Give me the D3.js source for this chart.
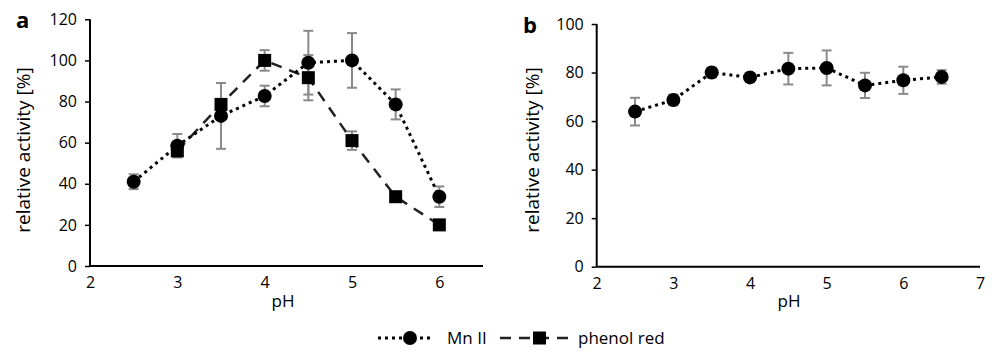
<!DOCTYPE html>
<html><head><meta charset="utf-8">
<script src="https://cdn.jsdelivr.net/npm/d3@7"></script>
<style>body{margin:0;background:#fff}svg{display:block}text{font-family:"Open Sans",sans-serif}</style>
</head><body><svg id="c" width="994" height="355"></svg>
<script>
// Panel a
const phA = [2.5, 3, 3.5, 4, 4.5, 5, 5.5, 6];
const mnA = [41, 58.5, 73, 82.7, 98.9, 100, 78.6, 33.7];
const mnAerr = [3.6, 5.7, 16, 5, 15.5, 13.3, 7.3, 5];
const phRedX = [3, 3.5, 4, 4.5, 5, 5.5, 6];
const phRed = [56, 78.6, 100, 91.6, 61, 33.7, 20];
const phRedErr = [1.5, 1.5, 5, 11, 4.5, 1, 1];
// Panel b
const phB = [2.5, 3, 3.5, 4, 4.5, 5, 5.5, 6, 6.5];
const mnB = [63.9, 68.7, 80, 78, 81.6, 81.9, 74.7, 76.8, 78.2];
const mnBerr = [5.7, 2.2, 2, 1.5, 6.5, 7.2, 5.2, 5.6, 2.8];
const ticksXA = [2, 3, 4, 5, 6];
const ticksYA = [0, 20, 40, 60, 80, 100, 120];
const ticksXB = [2, 3, 4, 5, 6, 7];
const ticksYB = [0, 20, 40, 60, 80, 100];
const legendLabels = ["Mn II", "phenol red"];

const svg = d3.select("#c");
const FS = 16;

function panel(opts) {
  const g = svg.append("g");
  const x = d3.scaleLinear().domain(opts.xd).range(opts.xr);
  const y = d3.scaleLinear().domain(opts.yd).range(opts.yr);
  const ya = g.append("g").attr("transform", `translate(${opts.xr[0]},0)`)
    .call(d3.axisLeft(y).tickValues(opts.yt).tickSize(5).tickPadding(8).tickFormat(d3.format("d")));
  ya.select(".domain").attr("stroke", "#000").attr("stroke-width", 2).attr("d", `M0,${opts.yr[0]}V${opts.yr[1]}`);
  ya.selectAll(".tick line").attr("stroke", "#000").attr("stroke-width", 1.5);
  ya.selectAll("text").attr("font-size", FS).attr("fill", "#000").attr("font-family", "Open Sans");
  const xa = g.append("g").attr("transform", `translate(0,${opts.yr[0]})`)
    .call(d3.axisBottom(x).tickValues(opts.xt).tickSize(0).tickPadding(11).tickFormat(d3.format("d")));
  xa.select(".domain").attr("stroke", "#000").attr("stroke-width", 2).attr("d", `M${opts.xr[0]},0H${opts.xr[1]}`);
  xa.selectAll("text").attr("font-size", FS).attr("fill", "#000").attr("font-family", "Open Sans");
  g.append("text").attr("transform", `translate(${opts.ylx},${opts.yly}) rotate(-90)`)
    .attr("text-anchor", "middle").attr("font-size", 19).text("relative activity [%]");
  g.append("text").attr("x", opts.phx).attr("y", 307).attr("text-anchor", "middle").attr("font-size", 17).text("pH");
  g.append("text").attr("x", opts.lx).attr("y", opts.ly).attr("font-family", "Liberation Sans, Arial")
    .attr("font-weight", "bold").attr("font-size", 22).text(opts.letter);
  return {g, x, y};
}

function errBars(p, xs, ys, es) {
  const eg = p.g.append("g").attr("stroke", "#8a8a8a").attr("stroke-width", 2);
  xs.forEach((xv, i) => {
    const cx = p.x(xv), t = p.y(ys[i] + es[i]), b = p.y(ys[i] - es[i]);
    eg.append("line").attr("x1", cx).attr("x2", cx).attr("y1", t).attr("y2", b);
    eg.append("line").attr("x1", cx - 5).attr("x2", cx + 5).attr("y1", t).attr("y2", t);
    eg.append("line").attr("x1", cx - 5).attr("x2", cx + 5).attr("y1", b).attr("y2", b);
  });
}
function series(p, xs, ys, kind) {
  const line = d3.line().x((d, i) => p.x(xs[i])).y(d => p.y(d));
  const path = p.g.append("path").attr("d", line(ys)).attr("fill", "none");
  if (kind === "circle") path.attr("stroke", "#000").attr("stroke-width", 3).attr("stroke-dasharray", "3,4");
  else path.attr("stroke", "#222").attr("stroke-width", 2.5).attr("stroke-dasharray", "11,8");
  return path;
}
function markers(p, xs, ys, kind) {
  xs.forEach((xv, i) => {
    if (kind === "circle") p.g.append("circle").attr("cx", p.x(xv)).attr("cy", p.y(ys[i])).attr("r", 7).attr("fill", "#000");
    else p.g.append("rect").attr("x", p.x(xv) - 6.5).attr("y", p.y(ys[i]) - 6.5).attr("width", 13).attr("height", 13).attr("fill", "#000");
  });
}

const A = panel({xd: [2, 6.5], xr: [90, 483], yd: [0, 120], yr: [266, 19.3], xt: ticksXA, yt: ticksYA,
  ylx: 30, yly: 150, phx: 283, lx: 16, ly: 28, letter: "a"});
errBars(A, phA, mnA, mnAerr);
errBars(A, phRedX, phRed, phRedErr);
series(A, phRedX, phRed, "square");
series(A, phA, mnA, "circle");
markers(A, phA, mnA, "circle");
markers(A, phRedX, phRed, "square");

const B = panel({xd: [2, 7], xr: [596.7, 980], yd: [0, 100], yr: [266.7, 24], xt: ticksXB, yt: ticksYB,
  ylx: 539, yly: 150, phx: 789, lx: 523, ly: 33, letter: "b"});
errBars(B, phB, mnB, mnBerr);
series(B, phB, mnB, "circle");
markers(B, phB, mnB, "circle");

const lg = svg.append("g");
const ly = 338;
lg.append("line").attr("x1", 378).attr("x2", 433).attr("y1", ly).attr("y2", ly)
  .attr("stroke", "#000").attr("stroke-width", 3).attr("stroke-dasharray", "3,4");
lg.append("circle").attr("cx", 410).attr("cy", ly).attr("r", 7).attr("fill", "#000");
lg.append("text").attr("x", 447).attr("y", ly + 6).attr("font-size", 17).text(legendLabels[0]);
lg.append("line").attr("x1", 500).attr("x2", 572).attr("y1", ly).attr("y2", ly)
  .attr("stroke", "#222").attr("stroke-width", 2.5).attr("stroke-dasharray", "11,8");
lg.append("rect").attr("x", 533).attr("y", ly - 6.5).attr("width", 13).attr("height", 13).attr("fill", "#000");
lg.append("text").attr("x", 578).attr("y", ly + 6).attr("font-size", 17).text(legendLabels[1]);
</script></body></html>
